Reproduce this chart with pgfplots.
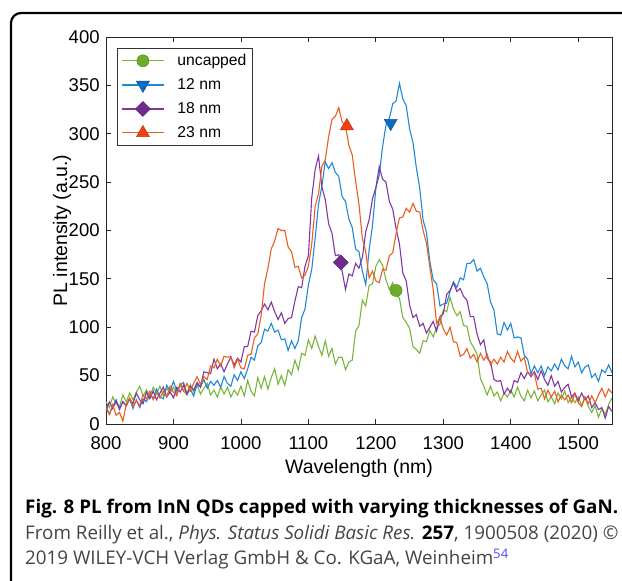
\documentclass[border=0pt]{standalone}
\usepackage{fontspec}
\setmainfont{Liberation Sans}
\newfontfamily\capfont{Open Sans}
\usepackage{pgfplots}
\pgfplotsset{compat=1.18}
\definecolor{lgreen}{HTML}{7AB43A}
\definecolor{mgreen}{HTML}{6EAD2A}
\definecolor{lblue}{HTML}{2088D6}
\definecolor{mblue}{HTML}{0B6CC4}
\definecolor{lpurple}{HTML}{8236A0}
\definecolor{mpurple}{HTML}{6F2C8E}
\definecolor{lorange}{HTML}{EA5E1E}
\definecolor{morange}{HTML}{EE4010}
\definecolor{capgray}{HTML}{444444}
\newcommand{\lgap}{\hbox to 11pt{}}
\begin{document}
\begin{tikzpicture}[x=1pt,y=1pt]
\begin{axis}[at={(0,0)}, anchor=south west,
  width=506pt, height=387pt, scale only axis,
  xmin=800, xmax=1550, ymin=0, ymax=400,
  xtick={800,900,...,1500}, ytick={0,50,...,400},
  tick align=inside, major tick length=5pt,
  axis line style={line width=0.9pt, black!85},
  every tick/.style={line width=0.8pt, black!85},
  /pgf/number format/assume math mode=true,
  /pgf/number format/1000 sep={},
  ticklabel style={font=\fontsize{18.5}{22}\selectfont, inner sep=1pt},
  yticklabel style={xshift=-5.2pt},
  xticklabel style={yshift=-11.5pt},
  xlabel={Wavelength (nm)}, ylabel={PL intensity (a.u.)},
  label style={font=\fontsize{19.5}{23}\selectfont},
  xlabel style={at={(axis description cs:0.5,-0.116)}, anchor=center},
  ylabel style={at={(axis description cs:-0.087,0.5)}, anchor=center, rotate=0},
  legend style={at={(axis description cs:0.0217,0.9716)}, anchor=north west,
    font=\fontsize{15.7}{18}\selectfont, draw=black!80, line width=0.8pt,
    row sep=7.5pt, inner xsep=4pt, inner ysep=4pt},
  legend cell align=left,
  legend image code/.code={\draw[#1, mark repeat=2, mark phase=2] plot coordinates {(0pt,0pt) (21pt,0pt) (42pt,0pt)};},
  clip=true]
% uncapped
\addplot[lgreen, line width=1.1pt, forget plot] coordinates {
(800,23)(805,17)(810,28)(815,21)(820,18)(825,30)(830,23)(835,32)(840,25)(845,33)(850,39)(855,29)(860,35)(865,28)(870,38)(875,32)(880,39)(885,29)(890,37)(895,32)(900,38)(905,31)(910,42)(915,34)(920,30)(925,41)(930,33)(935,40)(940,31)(945,37)(950,42)(955,30)(960,35)(965,28)(970,38)(975,31)(980,38)(985,28)(990,35)(995,30)(1000,39)(1005,29)(1010,45)(1015,34)(1020,29)(1025,48)(1030,37)(1035,49)(1040,36)(1045,48)(1050,57)(1055,41)(1060,50)(1065,40)(1070,56)(1075,51)(1080,66)(1085,56)(1090,73)(1095,71)(1100,87)(1105,78)(1110,91)(1115,80)(1120,71)(1125,86)(1130,70)(1135,78)(1140,62)(1145,69)(1150,69)(1155,56)(1160,64)(1165,66)(1170,96)(1175,102)(1180,128)(1185,122)(1190,143)(1195,145)(1200,163)(1205,170)(1210,164)(1215,149)(1220,139)(1225,146)(1230,134)(1235,130)(1240,110)(1245,105)(1250,99)(1255,80)(1260,77)(1265,73)(1270,86)(1275,85)(1280,97)(1285,90)(1290,100)(1295,103)(1300,118)(1305,116)(1310,131)(1315,119)(1320,112)(1325,116)(1330,102)(1335,101)(1340,85)(1345,79)(1350,72)(1355,47)(1360,39)(1365,30)(1370,39)(1375,29)(1380,33)(1385,24)(1390,32)(1395,28)(1400,35)(1405,28)(1410,38)(1415,29)(1420,24)(1425,35)(1430,27)(1435,34)(1440,24)(1445,30)(1450,35)(1455,23)(1460,28)(1465,21)(1470,32)(1475,26)(1480,34)(1485,22)(1490,28)(1495,22)(1500,28)(1505,19)(1510,28)(1515,18)(1520,12)(1525,19)(1530,7)(1535,16)(1540,10)(1545,20)(1550,27)};
% 12 nm
\addplot[lblue, line width=1.1pt, forget plot] coordinates {
(800,19)(805,10)(810,18)(815,25)(820,16)(825,23)(830,19)(835,26)(840,16)(845,25)(850,17)(855,26)(860,23)(865,31)(870,26)(875,36)(880,28)(885,26)(890,40)(895,34)(900,44)(905,34)(910,40)(915,43)(920,31)(925,36)(930,29)(935,41)(940,38)(945,46)(950,37)(955,44)(960,40)(965,45)(970,38)(975,49)(980,42)(985,39)(990,51)(995,45)(1000,54)(1005,47)(1010,57)(1015,69)(1020,66)(1025,81)(1030,84)(1035,98)(1040,96)(1045,104)(1050,95)(1055,97)(1060,87)(1065,88)(1070,76)(1075,86)(1080,78)(1085,86)(1090,110)(1095,119)(1100,144)(1105,160)(1110,192)(1115,227)(1120,246)(1125,271)(1130,264)(1135,270)(1140,260)(1145,256)(1150,235)(1155,230)(1160,212)(1165,203)(1170,181)(1175,178)(1180,158)(1185,144)(1190,180)(1195,205)(1200,244)(1205,257)(1210,287)(1215,309)(1220,316)(1225,331)(1230,334)(1235,352)(1240,336)(1245,329)(1250,305)(1255,291)(1260,265)(1265,244)(1270,211)(1275,198)(1280,168)(1285,149)(1290,145)(1295,122)(1300,124)(1305,125)(1310,137)(1315,147)(1320,141)(1325,151)(1330,149)(1335,166)(1340,166)(1345,170)(1350,158)(1355,161)(1360,152)(1365,145)(1370,126)(1375,118)(1380,93)(1385,92)(1390,105)(1395,97)(1400,104)(1405,89)(1410,90)(1415,89)(1420,71)(1425,67)(1430,52)(1435,60)(1440,53)(1445,60)(1450,50)(1455,59)(1460,55)(1465,62)(1470,56)(1475,67)(1480,60)(1485,57)(1490,70)(1495,59)(1500,64)(1505,53)(1510,59)(1515,61)(1520,48)(1525,52)(1530,44)(1535,56)(1540,53)(1545,61)(1550,53)};
% 18 nm
\addplot[lpurple, line width=1.1pt, forget plot] coordinates {
(800,14)(805,23)(810,16)(815,24)(820,15)(825,23)(830,19)(835,26)(840,21)(845,32)(850,25)(855,21)(860,33)(865,26)(870,34)(875,25)(880,32)(885,38)(890,28)(895,33)(900,27)(905,38)(910,33)(915,40)(920,31)(925,39)(930,35)(935,43)(940,38)(945,54)(950,53)(955,52)(960,67)(965,57)(970,62)(975,54)(980,62)(985,69)(990,61)(995,68)(1000,64)(1005,80)(1010,80)(1015,96)(1020,95)(1025,112)(1030,117)(1035,124)(1040,118)(1045,126)(1050,116)(1055,108)(1060,115)(1065,104)(1070,109)(1075,110)(1080,127)(1085,142)(1090,141)(1095,163)(1100,174)(1105,234)(1110,263)(1115,277)(1120,245)(1125,232)(1130,207)(1135,197)(1140,174)(1145,175)(1150,158)(1155,139)(1160,155)(1165,153)(1170,166)(1175,161)(1180,172)(1185,199)(1190,211)(1195,233)(1200,244)(1205,266)(1210,253)(1215,250)(1220,230)(1225,222)(1230,202)(1235,186)(1240,156)(1245,148)(1250,123)(1255,110)(1260,113)(1265,101)(1270,104)(1275,94)(1280,100)(1285,106)(1290,96)(1295,111)(1300,114)(1305,134)(1310,138)(1315,146)(1320,137)(1325,140)(1330,132)(1335,128)(1340,111)(1345,111)(1350,93)(1355,82)(1360,87)(1365,68)(1370,64)(1375,46)(1380,44)(1385,45)(1390,31)(1395,37)(1400,32)(1405,45)(1410,43)(1415,53)(1420,47)(1425,54)(1430,49)(1435,54)(1440,46)(1445,55)(1450,46)(1455,40)(1460,50)(1465,39)(1470,44)(1475,33)(1480,38)(1485,41)(1490,28)(1495,32)(1500,24)(1505,32)(1510,25)(1515,29)(1520,17)(1525,22)(1530,15)(1535,17)(1540,6)(1545,18)(1550,13)};
% 23 nm
\addplot[lorange, line width=1.1pt, forget plot] coordinates {
(800,16)(805,10)(810,20)(815,9)(820,12)(825,3)(830,20)(835,27)(840,18)(845,24)(850,19)(855,30)(860,26)(865,34)(870,25)(875,32)(880,27)(885,34)(890,28)(895,39)(900,33)(905,29)(910,41)(915,34)(920,42)(925,34)(930,42)(935,49)(940,41)(945,49)(950,46)(955,60)(960,58)(965,67)(970,60)(975,70)(980,69)(985,70)(990,58)(995,67)(1000,58)(1005,57)(1010,71)(1015,72)(1020,89)(1025,93)(1030,112)(1035,145)(1040,161)(1045,181)(1050,189)(1055,202)(1060,200)(1065,200)(1070,183)(1075,178)(1080,162)(1085,163)(1090,151)(1095,154)(1100,163)(1105,186)(1110,225)(1115,238)(1120,266)(1125,273)(1130,297)(1135,315)(1140,318)(1145,327)(1150,312)(1155,308)(1160,288)(1165,278)(1170,251)(1175,227)(1180,192)(1185,178)(1190,151)(1195,158)(1200,148)(1205,146)(1210,160)(1215,159)(1220,174)(1225,177)(1230,197)(1235,213)(1240,214)(1245,223)(1250,219)(1255,228)(1260,220)(1265,219)(1270,200)(1275,187)(1280,162)(1285,139)(1290,104)(1295,110)(1300,98)(1305,92)(1310,100)(1315,85)(1320,84)(1325,70)(1330,72)(1335,78)(1340,68)(1345,72)(1350,64)(1355,73)(1360,66)(1365,72)(1370,61)(1375,67)(1380,62)(1385,69)(1390,64)(1395,75)(1400,68)(1405,64)(1410,75)(1415,65)(1420,69)(1425,53)(1430,52)(1435,52)(1440,36)(1445,37)(1450,26)(1455,35)(1460,28)(1465,34)(1470,23)(1475,30)(1480,25)(1485,30)(1490,22)(1495,31)(1500,22)(1505,18)(1510,28)(1515,21)(1520,29)(1525,22)(1530,30)(1535,37)(1540,28)(1545,36)(1550,32)};
% markers
\addplot[only marks, mark=*, mark size=6pt, mark options={fill=mgreen, draw=mgreen!80!black, line width=0.5pt}, forget plot] coordinates {(1230,138)};
\addplot[only marks, mark=triangle*, mark size=7.5pt, mark options={fill=mblue, draw=mblue!80!black, rotate=180, line width=0.5pt}, forget plot] coordinates {(1222,311)};
\addplot[only marks, mark=square*, mark size=5.3pt, mark options={fill=mpurple, draw=mpurple!80!black, rotate=45, line width=0.5pt}, forget plot] coordinates {(1148,167)};
\addplot[only marks, mark=triangle*, mark size=7.5pt, mark options={fill=morange, draw=morange!80!black, line width=0.5pt}, forget plot] coordinates {(1157,308)};
\addlegendimage{lgreen, line width=1.1pt, mark=*, mark size=6pt, mark options={fill=mgreen, draw=mgreen!80!black, line width=0.5pt}}
\addlegendimage{lblue, line width=1.1pt, mark=triangle*, mark size=7.5pt, mark options={fill=mblue, draw=mblue!80!black, rotate=180, line width=0.5pt}}
\addlegendimage{lpurple, line width=1.1pt, mark=square*, mark size=5.3pt, mark options={fill=mpurple, draw=mpurple!80!black, rotate=45, line width=0.5pt}}
\addlegendimage{lorange, line width=1.1pt, mark=triangle*, mark size=7.5pt, mark options={fill=morange, draw=morange!80!black, line width=0.5pt}}
\legend{\lgap uncapped, \lgap 12 nm, \lgap 18 nm, \lgap 23 nm}
\end{axis}
% frame and caption: reference pixel (px,py) -> (px-106, 424-py)
\draw[line width=2.2pt, rounded corners=10pt] (-95,411) rectangle (594,-171);
\node[anchor=base west, inner sep=0pt, font=\capfont\bfseries\fontsize{18.8}{22}\selectfont] at (-81,-90) {Fig. 8 PL from InN QDs capped with varying thicknesses of GaN.};
\node[anchor=base west, inner sep=0pt, text=capgray, font=\capfont\fontsize{18.8}{22}\selectfont] at (-81,-116) {From Reilly et al., \textit{Phys. Status Solidi Basic Res.} \textbf{\color{black}257}, 1900508 (2020) ©};
\node[anchor=base west, inner sep=0pt, text=capgray, font=\capfont\fontsize{18.8}{22}\selectfont] at (-81,-141) {2019 WILEY-VCH Verlag GmbH \& Co. KGaA, Weinheim\textsuperscript{\color{blue!70!white}54}};
\pgfresetboundingbox
\useasboundingbox (-106,-157) rectangle (516,424);
\end{tikzpicture}
\end{document}
